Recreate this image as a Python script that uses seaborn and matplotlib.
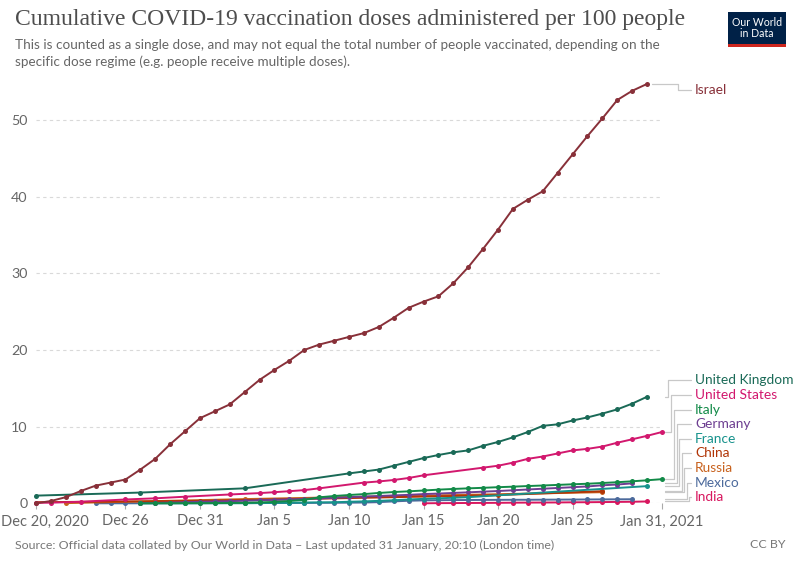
import numpy as np
import pandas as pd
import matplotlib
matplotlib.use("Agg")
import matplotlib.pyplot as plt
import seaborn as sns
from matplotlib.patches import Rectangle
from matplotlib.lines import Line2D
import matplotlib.transforms as mtransforms

# ---------------- data ----------------
israel_dates = pd.date_range("2020-12-20", "2021-01-30")
israel_vals = [0.0, 0.3, 0.8, 1.6, 2.3, 2.7, 3.1, 4.4, 5.8, 7.7, 9.4, 11.1, 12.0, 12.9,
               14.5, 16.1, 17.4, 18.6, 20.0, 20.7, 21.2, 21.7, 22.2, 23.0, 24.2, 25.5,
               26.3, 27.0, 28.7, 30.8, 33.2, 35.7, 38.4, 39.6, 40.7, 43.1, 45.5, 47.9,
               50.2, 52.6, 53.8, 54.7]

uk_dates = ["2020-12-20", "2020-12-27", "2021-01-03"] + \
    [d.strftime("%Y-%m-%d") for d in pd.date_range("2021-01-10", "2021-01-30")]
uk_vals = [1.0, 1.4, 1.95, 3.9, 4.15, 4.4, 4.9, 5.4, 5.9, 6.3, 6.65, 6.9, 7.5, 8.0, 8.6,
           9.3, 10.1, 10.3, 10.8, 11.2, 11.7, 12.25, 13.0, 13.9]

us_dates = ["2020-12-20", "2020-12-21", "2020-12-23", "2020-12-26", "2020-12-28",
            "2020-12-30", "2021-01-02", "2021-01-04", "2021-01-05", "2021-01-06",
            "2021-01-07", "2021-01-08", "2021-01-11", "2021-01-12", "2021-01-13",
            "2021-01-14", "2021-01-15", "2021-01-19", "2021-01-20", "2021-01-21",
            "2021-01-22", "2021-01-23", "2021-01-24", "2021-01-25", "2021-01-26",
            "2021-01-27", "2021-01-28", "2021-01-29", "2021-01-30", "2021-01-31"]
us_vals = [0.06, 0.08, 0.2, 0.5, 0.65, 0.86, 1.15, 1.33, 1.45, 1.58, 1.72, 1.95, 2.7,
           2.85, 3.04, 3.3, 3.65, 4.65, 4.9, 5.3, 5.8, 6.1, 6.5, 6.9, 7.1, 7.4, 7.9,
           8.35, 8.8, 9.3]

italy_dates = pd.date_range("2020-12-27", "2021-01-31")
italy_vals = [0.0, 0.01, 0.01, 0.02, 0.02, 0.03, 0.04, 0.07, 0.12, 0.18, 0.3, 0.45,
              0.78, 0.95, 1.08, 1.2, 1.35, 1.47, 1.56, 1.67, 1.78, 1.87, 1.95, 2.02,
              2.1, 2.17, 2.25, 2.32, 2.4, 2.48, 2.55, 2.65, 2.75, 2.87, 3.0, 3.15]

germany_dates = pd.date_range("2020-12-27", "2021-01-29")
germany_vals = [0.03, 0.05, 0.1, 0.15, 0.2, 0.24, 0.28, 0.33, 0.4, 0.45, 0.5, 0.57,
                0.63, 0.72, 0.8, 0.88, 0.95, 1.03, 1.1, 1.2, 1.27, 1.35, 1.43, 1.52,
                1.6, 1.7, 1.8, 1.9, 2.0, 2.1, 2.2, 2.35, 2.45, 2.6]

france_dates = ["2020-12-27", "2020-12-30", "2021-01-03", "2021-01-06", "2021-01-07",
                "2021-01-08", "2021-01-09", "2021-01-10", "2021-01-11", "2021-01-12",
                "2021-01-13", "2021-01-14", "2021-01-15", "2021-01-16", "2021-01-17",
                "2021-01-18", "2021-01-30"]
france_vals = [0.0, 0.0, 0.01, 0.07, 0.1, 0.12, 0.14, 0.2, 0.25, 0.32, 0.4, 0.5, 0.58,
               0.65, 0.72, 0.8, 2.24]

china_dates = ["2020-12-15", "2020-12-31", "2021-01-09", "2021-01-20", "2021-01-27"]
china_vals = [0.07, 0.31, 0.64, 1.07, 1.58]

russia_dates = ["2020-12-22", "2021-01-03", "2021-01-27"]
russia_vals = [0.02, 0.55, 1.45]

mexico_dates = pd.date_range("2020-12-24", "2021-01-29")
mexico_vals = [0.0, 0.0, 0.0, 0.0, 0.01, 0.01, 0.02, 0.02, 0.03, 0.03, 0.03, 0.03,
               0.04, 0.04, 0.05, 0.06, 0.07, 0.08, 0.1, 0.15, 0.25, 0.33, 0.38, 0.4,
               0.42, 0.43, 0.44, 0.45, 0.46, 0.46, 0.47, 0.48, 0.49, 0.5, 0.51, 0.52,
               0.53]

india_dates = pd.date_range("2021-01-15", "2021-01-30")
india_vals = [0.0, 0.02, 0.03, 0.04, 0.05, 0.06, 0.08, 0.09, 0.1, 0.11, 0.13, 0.14,
              0.16, 0.18, 0.2, 0.24]

countries = ["Israel", "United Kingdom", "United States", "Italy", "Germany", "France",
             "China", "Russia", "Mexico", "India"]
colors = ["#883039", "#1A6A57", "#D2186E", "#128A48", "#6D3E91", "#17928C",
          "#B13507", "#C8621E", "#4C6A9C", "#D8175F"]
series = {
    "Israel": (israel_dates, israel_vals),
    "United Kingdom": (uk_dates, uk_vals),
    "United States": (us_dates, us_vals),
    "Italy": (italy_dates, italy_vals),
    "Germany": (germany_dates, germany_vals),
    "France": (france_dates, france_vals),
    "China": (china_dates, china_vals),
    "Russia": (russia_dates, russia_vals),
    "Mexico": (mexico_dates, mexico_vals),
    "India": (india_dates, india_vals),
}

tick_dates = ["2020-12-20", "2020-12-26", "2020-12-31", "2021-01-05", "2021-01-10",
              "2021-01-15", "2021-01-20", "2021-01-25", "2021-01-31"]
tick_labels = ["Dec 20, 2020", "Dec 26", "Dec 31", "Jan 5", "Jan 10", "Jan 15",
               "Jan 20", "Jan 25", "Jan 31, 2021"]
y_ticks = [0, 10, 20, 30, 40, 50]

# label layout (pixel rows of the end labels, from top)
label_rows = {"Israel": 90, "United Kingdom": 380, "United States": 395, "Italy": 410,
              "Germany": 424, "France": 439, "China": 453, "Russia": 468,
              "Mexico": 483, "India": 497}
elbow_x = {"Israel": 678, "United Kingdom": 668, "United States": 671, "Italy": 674,
           "Germany": 677, "France": 679, "China": 682, "Russia": 684,
           "Mexico": 687, "India": 689}

# ---------------- figure ----------------
sns.set_theme(style="white")
plt.rcParams["font.family"] = ["Lato", "DejaVu Sans"]

W, H = 800, 565
fig = plt.figure(figsize=(W / 100, H / 100), dpi=100)
ax_l, ax_r, ax_t, ax_b = 36, 662, 81.6, 503.3
ax = fig.add_axes([ax_l / W, 1 - ax_b / H, (ax_r - ax_l) / W, (ax_b - ax_t) / H])

palette = dict(zip(countries, colors))
for name in countries[::-1]:
    d, v = series[name]
    df = pd.DataFrame({"date": pd.to_datetime(list(d)), "value": v, "country": name})
    sns.lineplot(data=df, x="date", y="value", color=palette[name], ax=ax,
                 marker="o", markersize=3.6, markeredgewidth=0, linewidth=1.4,
                 legend=False, estimator=None, sort=True)
    ln = ax.lines[-1]
    ln.set_clip_on(name == "China")

x0 = pd.Timestamp("2020-12-20")
x1 = pd.Timestamp("2021-01-31")
ax.set_xlim(x0, x1)
ax.set_ylim(0, 55)
for s in ax.spines.values():
    s.set_visible(False)
ax.set_xlabel("")
ax.set_ylabel("")

ax.set_yticks(y_ticks)
ax.set_yticklabels([str(t) for t in y_ticks])
ax.tick_params(axis="y", length=0, pad=6, labelsize=10.3, labelcolor="#666666")
for t in y_ticks:
    ax.axhline(t, color="#d9d9d9", lw=0.8, ls=(0, (3, 3)), zorder=0)

ax.set_xticks(pd.to_datetime(tick_dates))
ax.set_xticklabels(tick_labels)
ax.tick_params(axis="x", length=4, width=0.8, color="#aaaaaa", pad=4,
               labelsize=10.5, labelcolor="#666666", bottom=True)
xt = ax.get_xticklabels()
xt[0].set_horizontalalignment("left")
xt[0].set_transform(xt[0].get_transform() +
                    mtransforms.ScaledTranslation(-0.35, 0, fig.dpi_scale_trans))
ax.grid(False)

# ---------------- end labels & connectors ----------------
fig.canvas.draw()
for name, col in zip(countries, colors):
    d, v = series[name]
    last_x = pd.to_datetime(list(d))[-1]
    px_last = ax.transData.transform((matplotlib.dates.date2num(last_x), v[-1]))
    ys = px_last[1]
    ly = H - label_rows[name]
    start_x = px_last[0] + 5 if name == "Israel" else ax_r + 3
    ex = elbow_x[name]
    xs = [start_x, ex, ex, 691]
    yy = [ys, ys, ly, ly]
    fig.add_artist(Line2D([x / W for x in xs], [y / H for y in yy],
                          transform=fig.transFigure, color="#c8c8c8", lw=0.9))
    fig.text(695 / W, ly / H, name, color=col, fontsize=9.9, va="center", ha="left")

# ---------------- title, subtitle, footer ----------------
fig.text(15 / W, 1 - 9 / H,
         "Cumulative COVID-19 vaccination doses administered per 100 people",
         fontsize=17.0, family=["Liberation Serif", "DejaVu Serif"], color="#4d4d4d",
         va="top", ha="left")
fig.text(15 / W, 1 - 45 / H,
         "This is counted as a single dose, and may not equal the total number of people vaccinated, depending on the",
         fontsize=9.7, color="#666666", va="center", ha="left")
fig.text(15 / W, 1 - 62 / H,
         "specific dose regime (e.g. people receive multiple doses).",
         fontsize=9.7, color="#666666", va="center", ha="left")
fig.text(15 / W, 1 - 545 / H,
         "Source: Official data collated by Our World in Data \u2013 Last updated 31 January, 20:10 (London time)",
         fontsize=8.9, color="#777777", va="center", ha="left")
fig.text(785 / W, 1 - 545 / H, "CC BY", fontsize=8.9, color="#777777",
         va="center", ha="right")

# logo
lx0, lx1, ly0, ly1 = 728, 786, 12, 47
fig.add_artist(Rectangle((lx0 / W, 1 - ly1 / H), (lx1 - lx0) / W, (ly1 - ly0) / H,
                         transform=fig.transFigure, facecolor="#002147", edgecolor="none"))
fig.add_artist(Rectangle((lx0 / W, 1 - ly1 / H), (lx1 - lx0) / W, 3 / H,
                         transform=fig.transFigure, facecolor="#CE261E", edgecolor="none"))
fig.text((lx0 + lx1) / 2 / W, 1 - 28 / H, "Our World\nin Data", color="white",
         fontsize=7.6, ha="center", va="center", linespacing=1.0)

fig.savefig("out.png", dpi=100)
